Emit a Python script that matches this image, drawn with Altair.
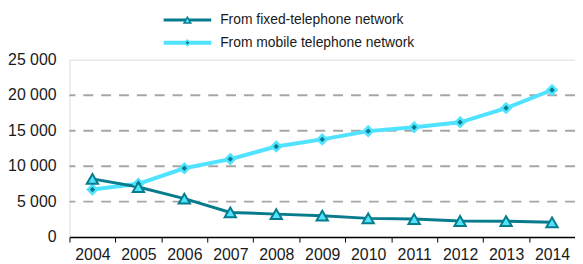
import altair as alt
import pandas as pd

years = [str(y) for y in range(2004, 2015)]
fixed = [8200, 7050, 5420, 3480, 3240, 3020, 2640, 2550, 2270, 2250, 2090]
mobile = [6720, 7510, 9700, 10990, 12760, 13770, 14930, 15490, 16180, 18180, 20730]
series_names = ["From fixed-telephone network", "From mobile telephone network"]
y_ticks = [0, 5000, 10000, 15000, 20000, 25000]

TEAL = "#077C8C"
CYAN = "#4FE3FF"
FONT = "Liberation Sans"

df_fixed = pd.DataFrame({"year": years, "value": fixed})
df_mobile = pd.DataFrame({"year": years, "value": mobile})
df_ticks = pd.DataFrame({"value": y_ticks})
df_ticks["label"] = [f"{v:,}".replace(",", " ") for v in y_ticks]
df_grid = df_ticks[(df_ticks["value"] > 0) & (df_ticks["value"] < 25000)]

y_scale = alt.Scale(domain=[0, 25000], nice=False)

x_enc = alt.X("year:O", scale=alt.Scale(paddingInner=0, paddingOuter=0),
              axis=alt.Axis(title=None, tickBand="extent", domainColor="#000000",
                            domainWidth=1.5, tickColor="#000000", tickSize=5,
                            tickWidth=1, labelFont=FONT, labelFontSize=16,
                            labelColor="#1a1a1a", labelPadding=5, labelAngle=0,
                            labelOverlap=False, grid=False))
y_enc = alt.Y("value:Q", scale=y_scale,
              axis=alt.Axis(title=None, values=[0], tickSize=4, tickColor="#000000",
                            labels=False, domainColor="#A6A6A6", domainWidth=2,
                            grid=False))

grid = alt.Chart(df_grid).mark_rule(color="#A6A6A6", strokeWidth=2,
                                    strokeDash=[10, 8]).encode(
    y=alt.Y("value:Q", scale=y_scale, axis=None))
ylabels = alt.Chart(df_ticks).mark_text(align="right", baseline="middle", font=FONT,
                                        fontSize=16, color="#1a1a1a").encode(
    x=alt.value(-13), y=alt.Y("value:Q", scale=y_scale, axis=None), text="label:N")

mobile_line = alt.Chart(df_mobile).mark_line(color=CYAN, strokeWidth=4).encode(x=x_enc, y=y_enc)
mobile_pt = alt.Chart(df_mobile).mark_point(shape="diamond", filled=True, color=CYAN,
                                             size=160, opacity=1).encode(x=x_enc, y=y_enc)
mobile_pt2 = alt.Chart(df_mobile).mark_point(shape="diamond", filled=True, color=TEAL,
                                              size=30, opacity=1).encode(x=x_enc, y=y_enc)
fixed_line = alt.Chart(df_fixed).mark_line(color=TEAL, strokeWidth=3).encode(x=x_enc, y=y_enc)
fixed_pt = alt.Chart(df_fixed).mark_point(shape="triangle-up", filled=True, fill=CYAN,
                                           stroke=TEAL, strokeWidth=2, size=130,
                                           opacity=1).encode(x=x_enc, y=y_enc)

# manual legend
def legend_row(name, ypix, color, shape, width):
    d = pd.DataFrame({"name": [name]})
    line = alt.Chart(d).mark_rule(color=color, strokeWidth=width).encode(
        x=alt.value(95), x2=alt.value(143), y=alt.value(ypix))
    txt = alt.Chart(d).mark_text(align="left", baseline="middle", font=FONT,
                                 fontSize=14, color="#1a1a1a").encode(
        x=alt.value(152), y=alt.value(ypix), text="name:N")
    if shape == "triangle":
        pt = alt.Chart(d).mark_point(shape="triangle-up", filled=True, fill=CYAN,
                                     stroke=TEAL, strokeWidth=1.5, size=45,
                                     opacity=1).encode(x=alt.value(119), y=alt.value(ypix))
        return [line, pt, txt]
    pt = alt.Chart(d).mark_point(shape="diamond", filled=True, color=CYAN, size=60,
                                 opacity=1).encode(x=alt.value(119), y=alt.value(ypix))
    pt2 = alt.Chart(d).mark_point(shape="diamond", filled=True, color=TEAL, size=12,
                                  opacity=1).encode(x=alt.value(119), y=alt.value(ypix))
    return [line, pt, pt2, txt]

legend_layers = legend_row(series_names[0], -40, TEAL, "triangle", 3) + \
    legend_row(series_names[1], -17, CYAN, "diamond", 4)

chart = alt.layer(grid, mobile_line, fixed_line, mobile_pt, mobile_pt2, fixed_pt,
                  ylabels, *legend_layers).properties(
    width=510, height=179,
    autosize=alt.AutoSizeParams(type="none"),
    padding={"left": 62, "top": 51, "right": 0, "bottom": 26},
).configure_view(stroke="#B3B3B3", strokeWidth=2).configure(background="white")

chart.save("out.html", embed_options={"renderer": "svg", "actions": False})
